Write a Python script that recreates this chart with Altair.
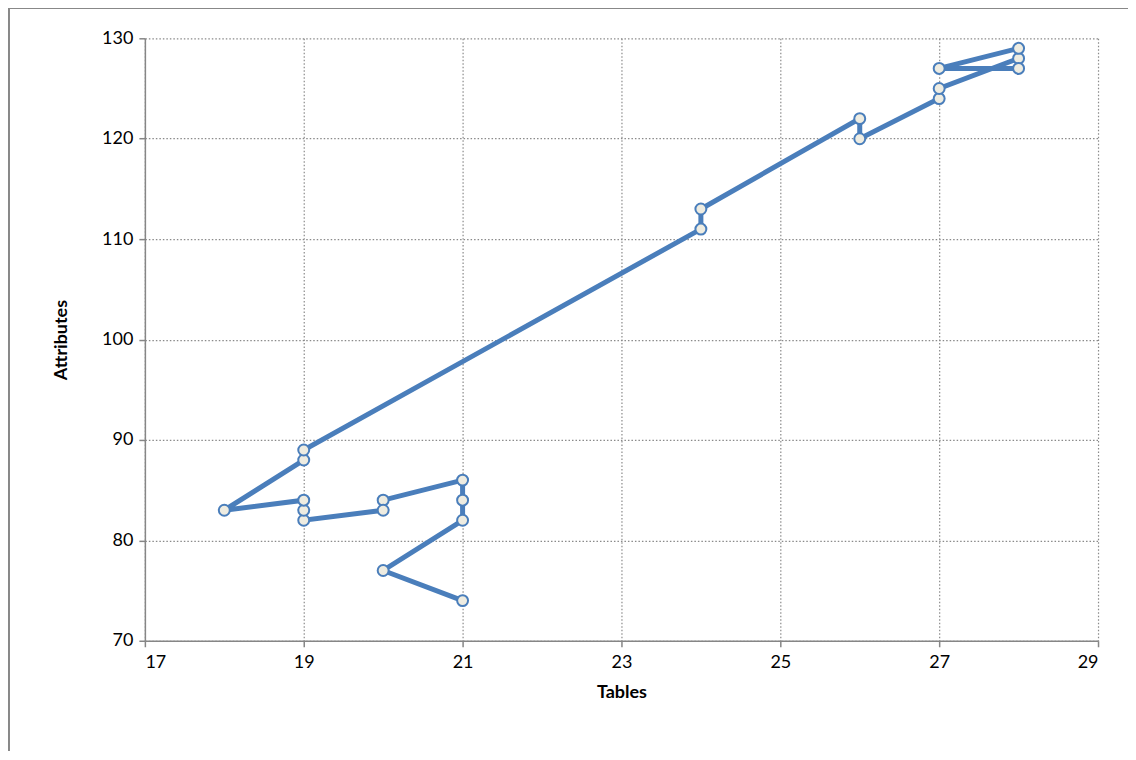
import altair as alt
import pandas as pd

tables = [21, 20, 21, 21, 21, 20, 20, 19, 19, 19, 18, 19, 19, 24, 24, 26, 26, 27, 27, 28, 28, 27, 28]
attributes = [74, 77, 82, 84, 86, 84, 83, 82, 83, 84, 83, 88, 89, 111, 113, 122, 120, 124, 125, 128, 127, 127, 129]
x_ticks = [17, 19, 21, 23, 25, 27, 29]
y_ticks = [70, 80, 90, 100, 110, 120, 130]

df = pd.DataFrame({"Tables": tables, "Attributes": attributes, "idx": list(range(len(tables)))})

FONT = "Lato"
BLUE = "#4a7ebb"

xenc = alt.X("Tables:Q", scale=alt.Scale(domain=[17, 29], nice=False, zero=False),
             axis=alt.Axis(values=x_ticks, format="d", title="Tables", grid=True, labelPadding=7,
                           titlePadding=12))
yenc = alt.Y("Attributes:Q", scale=alt.Scale(domain=[70, 130], nice=False, zero=False),
             axis=alt.Axis(values=y_ticks, format="d", title="Attributes", grid=True, labelPadding=6,
                           titlePadding=31))

line = alt.Chart(df).mark_line(color=BLUE, strokeWidth=5).encode(
    x=xenc, y=yenc, order="idx:Q")
pts = alt.Chart(df).mark_point(shape="circle", filled=True, fill="#eeece1", stroke=BLUE,
                               strokeWidth=2, size=120, opacity=1).encode(
    x="Tables:Q", y="Attributes:Q")

border_left = alt.Chart(df).mark_rule(color="#888888", strokeWidth=1.5, clip=False).encode(
    x=alt.value(-136.5), y=alt.value(-30), y2=alt.value(760))
border_top = alt.Chart(df).mark_rule(color="#888888", strokeWidth=1.5, clip=False).encode(
    x=alt.value(-137), x2=alt.value(1100), y=alt.value(-30))

chart = alt.layer(border_left, border_top, line, pts).properties(
    width=954, height=603,
    background="white",
    autosize=alt.AutoSizeParams(type="none"),
    padding={"left": 137, "top": 30, "right": 30, "bottom": 110},
).configure_view(stroke=None).configure_axis(
    labelFont=FONT, titleFont=FONT, labelFontSize=18, titleFontSize=18,
    labelColor="#000000", titleColor="#000000", titleFontWeight="bold",
    domainColor="#868686", domainWidth=1.5, tickColor="#868686", tickSize=6, tickWidth=1.5,
    gridColor="#8a8a8a", gridDash=[1.5, 2], gridWidth=1.2, gridOpacity=1,
)

chart.save("out.html", embed_options={"renderer": "svg", "actions": False})
